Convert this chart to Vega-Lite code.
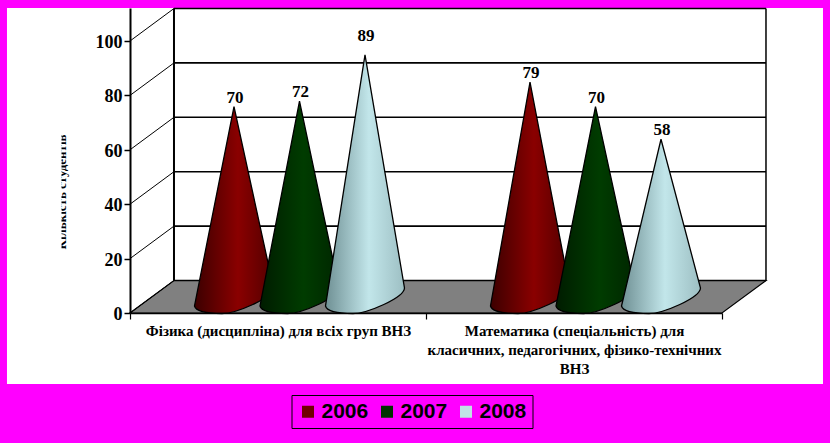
{
"$schema":"https://vega.github.io/schema/vega-lite/v6.json",
"width":592,"height":305,
"autosize":{"type":"none"},
"padding":{"left":130,"top":8,"right":108,"bottom":130},
"background":"#ff00ff",
"config":{"view":{"stroke":null},"text":{"font":"Liberation Serif"}},
"datasets":{
"cones":[
{"cat":"Фізика (дисципліна) для всіх груп ВНЗ","series":"2006","v":70},
{"cat":"Фізика (дисципліна) для всіх груп ВНЗ","series":"2007","v":72},
{"cat":"Фізика (дисципліна) для всіх груп ВНЗ","series":"2008","v":89},
{"cat":"Математика (спеціальність) для класичних, педагогічних, фізико-технічних ВНЗ","series":"2006","v":79},
{"cat":"Математика (спеціальність) для класичних, педагогічних, фізико-технічних ВНЗ","series":"2007","v":70},
{"cat":"Математика (спеціальність) для класичних, педагогічних, фізико-технічних ВНЗ","series":"2008","v":58}
],
"ticks":[{"t":0},{"t":20},{"t":40},{"t":60},{"t":80},{"t":100}],
"floor":[{"fx":0,"lo":0,"hi":0},{"fx":0.0743,"lo":0,"hi":11.95},{"fx":1,"lo":0,"hi":11.95},{"fx":1.0743,"lo":11.95,"hi":11.95}],
"one":[{"k":1}]
},
"resolve":{"scale":{"x":"independent"}},
"layer":[
{
"layer":[
{"data":{"name":"one"},"mark":{"type":"rect","fill":"#ffffff"},
 "encoding":{"x":{"datum":-0.2078,"type":"quantitative","scale":{"domain":[0,1],"nice":false,"zero":false},"axis":null},"x2":{"datum":1.1706},"y":{"datum":112.1,"type":"quantitative","scale":{"domain":[0,112.13],"nice":false},"axis":{"values":[0,20,40,60,80,100],"title":null,"grid":false,"zindex":1,"labelFont":"Liberation Serif","labelFontWeight":"bold","labelFontSize":18,"labelColor":"#000","labelPadding":2,"labelOffset":1.5,"tickColor":"#000","tickSize":6,"tickWidth":1.5,"domainColor":"#000","domainWidth":2}},"y2":{"datum":-26.1}}},
{"data":{"name":"floor"},"mark":{"type":"area","fill":"#808080","stroke":"#000","strokeWidth":1.2},
 "encoding":{"x":{"field":"fx","type":"quantitative"},"y":{"field":"lo","type":"quantitative"},"y2":{"field":"hi"}}},
{"data":{"name":"ticks"},"transform":[{"calculate":"datum.t+11.95","as":"back"}],"mark":{"type":"rule","color":"#000","strokeWidth":1.6},
 "encoding":{"x":{"datum":0.0743,"type":"quantitative"},"x2":{"datum":1.0743},"y":{"field":"back","type":"quantitative"}}},
{"data":{"name":"ticks"},"transform":[{"calculate":"datum.t+11.95","as":"back"}],"mark":{"type":"rule","color":"#000","strokeWidth":1},
 "encoding":{"x":{"datum":0,"type":"quantitative"},"x2":{"datum":0.0743},"y":{"field":"t","type":"quantitative"},"y2":{"field":"back"}}},
{"data":{"name":"one"},"mark":{"type":"rule","color":"#000","strokeWidth":2},
 "encoding":{"x":{"datum":0.0743,"type":"quantitative"},"y":{"datum":11.95,"type":"quantitative"},"y2":{"datum":111.95}}},
{"data":{"name":"one"},"mark":{"type":"rule","color":"#000","strokeWidth":1.5},
 "encoding":{"x":{"datum":1.0743,"type":"quantitative"},"y":{"datum":11.95,"type":"quantitative"},"y2":{"datum":111.95}}},
{"data":{"values":[{"title":"Кількість студентів"}]},"mark":{"type":"text","angle":270,"align":"center","baseline":"alphabetic","font":"Liberation Serif","fontWeight":"bold","fontSize":13,"color":"#000"},
 "encoding":{"x":{"datum":-0.108,"type":"quantitative"},"y":{"datum":44.5,"type":"quantitative"},"text":{"field":"title"}}},
{"data":{"name":"one"},"mark":{"type":"rect","fill":"#ffffff"},
 "encoding":{"x":{"datum":-0.14,"type":"quantitative"},"x2":{"datum":-0.1157},"y":{"datum":72,"type":"quantitative"},"y2":{"datum":18}}}
]
},
{
"data":{"name":"cones"},
"transform":[
{"calculate":"datum.v*2.72","as":"h"},
{"calculate":"'M0,0L-39.5,'+(datum.h+9)+'C-38,'+(datum.h+15)+' -24,'+(datum.h+16.5)+' -12,'+(datum.h+16.5)+'C2,'+(datum.h+16.5)+' 39,'+(datum.h+1)+' 39.5,'+(datum.h-9)+'Z'","as":"conePath"}
],
"encoding":{
"x":{"field":"cat","type":"nominal","sort":null,"scale":{"paddingInner":0,"paddingOuter":0},"axis":{"title":null,"orient":"bottom","labelAngle":0,"zindex":1,"labelLimit":0,"tickBand":"extent","tickSize":6,"tickWidth":1.2,"tickColor":"#000","domainColor":"#000","domainWidth":1.5,"labelFont":"Liberation Serif","labelFontWeight":"bold","labelFontSize":15,"labelColor":"#000","labelPadding":4,"labelBaseline":"top","labelLineHeight":19,"labelExpr":"indexof(datum.label,'Математика')==0?['Математика (спеціальність) для','класичних, педагогічних, фізико-технічних','ВНЗ']:datum.label"}},
"xOffset":{"field":"series","type":"nominal","scale":{"type":"point","padding":0,"domain":["2006","2007","2008"],"range":[104,235]}},
"y":{"field":"v","type":"quantitative"},
"yOffset":{"value":-16}
},
"layer":[
{"mark":{"type":"point","filled":true,"shape":"square","size":9,"opacity":1},
 "encoding":{"y":{"datum":0,"type":"quantitative"},"color":{"field":"series","type":"nominal","scale":{"domain":["2006","2007","2008"],"range":["#700000","#003300","#c0e2e6"]},
 "legend":{"title":null,"orient":"none","legendX":161.5,"legendY":387,"direction":"horizontal","columns":3,"columnPadding":8,"padding":6,"strokeColor":"#000","fillColor":"#ff00ff","symbolType":"square","symbolSize":144,"symbolOpacity":1,"symbolStrokeWidth":0,"labelFont":"Liberation Sans","labelFontSize":21,"labelFontWeight":"bold","labelColor":"#000","labelOffset":3}}}},
{"transform":[{"filter":"datum.series=='2006'"}],
 "mark":{"type":"point","filled":true,"size":4,"opacity":1,"stroke":"#000","strokeWidth":1.3,"fill":{"gradient":"linear","x1":0,"y1":0,"x2":1,"y2":0,"stops":[{"offset":0,"color":"#3c0000"},{"offset":0.55,"color":"#8a0000"},{"offset":1,"color":"#520000"}]}},
 "encoding":{"shape":{"field":"conePath","type":"nominal","scale":null,"legend":null}}},
{"transform":[{"filter":"datum.series=='2007'"}],
 "mark":{"type":"point","filled":true,"size":4,"opacity":1,"stroke":"#000","strokeWidth":1.3,"fill":{"gradient":"linear","x1":0,"y1":0,"x2":1,"y2":0,"stops":[{"offset":0,"color":"#001c00"},{"offset":0.55,"color":"#003c00"},{"offset":1,"color":"#002600"}]}},
 "encoding":{"shape":{"field":"conePath","type":"nominal","scale":null,"legend":null}}},
{"transform":[{"filter":"datum.series=='2008'"}],
 "mark":{"type":"point","filled":true,"size":4,"opacity":1,"stroke":"#000","strokeWidth":1.3,"fill":{"gradient":"linear","x1":0,"y1":0,"x2":1,"y2":0,"stops":[{"offset":0,"color":"#6f9094"},{"offset":0.55,"color":"#c2e6ea"},{"offset":1,"color":"#9dbfc3"}]}},
 "encoding":{"shape":{"field":"conePath","type":"nominal","scale":null,"legend":null}}},
{"transform":[{"filter":"datum.v!=89"}],"mark":{"type":"text","font":"Liberation Serif","fontWeight":"bold","fontSize":17,"color":"#000","align":"center","baseline":"alphabetic","dy":-4,"dx":1},
 "encoding":{"text":{"field":"v","type":"quantitative"}}},
{"transform":[{"filter":"datum.v==89"}],"mark":{"type":"text","font":"Liberation Serif","fontWeight":"bold","fontSize":17,"color":"#000","align":"center","baseline":"alphabetic","dy":-14,"dx":1},
 "encoding":{"text":{"field":"v","type":"quantitative"}}}
]
}
]
}
